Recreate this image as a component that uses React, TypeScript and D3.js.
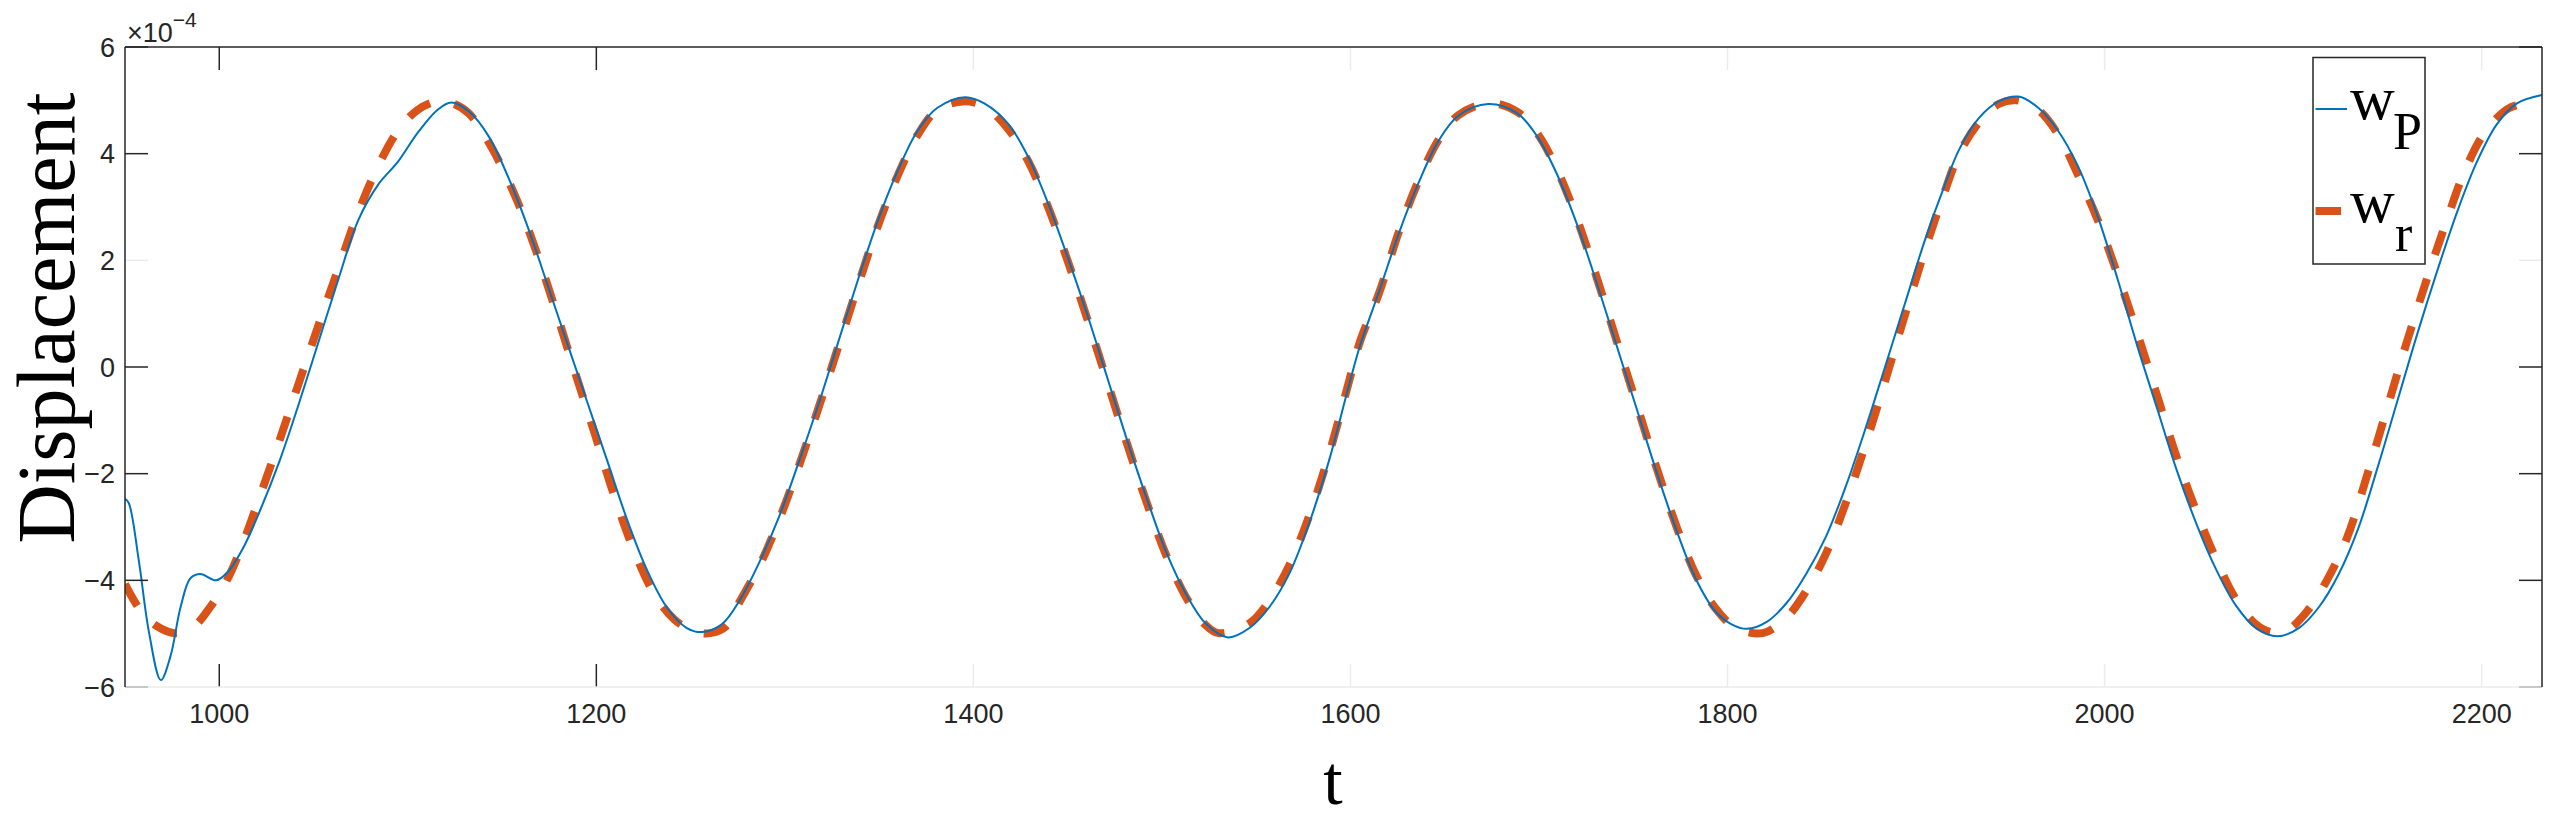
import React from "react";
import * as d3 from "d3";

// values are in units of 1e-4 (the axis carries the x10^-4 exponent)
const tP = [950, 952, 957.4, 962.7, 969, 974, 979.5, 984.7, 990, 998.3, 1004.6, 1013, 1021.4, 1031.9, 1042.3, 1052.8, 1063.3, 1073.8, 1084.3, 1094.8, 1105.2, 1115.7, 1123, 1132.5, 1143, 1153.5, 1163.9, 1174.4, 1184.9, 1195.4, 1205.9, 1216.3, 1226.8, 1237.3, 1247.8, 1256.2, 1266.7, 1276.1, 1286.6, 1297.1, 1307.5, 1318, 1328.5, 1339, 1349.5, 1360, 1370.4, 1380.9, 1395.6, 1406, 1418.7, 1429.2, 1439.6, 1450.1, 1460.6, 1471.1, 1481.6, 1492, 1502.5, 1513, 1523.5, 1535, 1546.6, 1557, 1567.5, 1578, 1588.5, 1599, 1604.9, 1615.3, 1625.8, 1636.2, 1646.7, 1657.2, 1673, 1688.7, 1699.1, 1709.6, 1720.1, 1730.6, 1741.1, 1751.6, 1762, 1772.5, 1783, 1793.5, 1801.9, 1810.3, 1820.8, 1831.2, 1841.7, 1852.2, 1862.7, 1873.2, 1883.7, 1894.1, 1904.6, 1915.1, 1922.9, 1933.4, 1943.8, 1954.3, 1964.8, 1975.3, 1985.8, 1996.3, 2006.8, 2017.2, 2027.7, 2038.2, 2048.7, 2059.2, 2069.6, 2080.1, 2091.7, 2103.2, 2113.7, 2124.2, 2134.6, 2145.1, 2155.6, 2166.1, 2176.6, 2187, 2197.5, 2208, 2218.5, 2232];
const wP = [-2.47, -2.55, -3.65, -4.97, -5.87, -5.44, -4.5, -3.96, -3.88, -4.0, -3.84, -3.37, -2.71, -1.77, -0.68, 0.49, 1.66, 2.76, 3.42, 3.85, 4.39, 4.82, 4.96, 4.79, 4.32, 3.54, 2.6, 1.51, 0.41, -0.68, -1.77, -2.86, -3.8, -4.5, -4.89, -4.97, -4.82, -4.37, -3.65, -2.79, -1.77, -0.68, 0.49, 1.66, 2.76, 3.69, 4.43, 4.86, 5.06, 4.94, 4.55, 3.93, 3.07, 2.05, 0.96, -0.21, -1.38, -2.47, -3.49, -4.27, -4.82, -5.07, -4.89, -4.5, -3.88, -2.94, -1.77, -0.37, 0.38, 1.43, 2.52, 3.46, 4.24, 4.71, 4.93, 4.75, 4.32, 3.61, 2.68, 1.58, 0.41, -0.76, -1.93, -3.02, -3.96, -4.58, -4.82, -4.91, -4.78, -4.43, -3.88, -3.18, -2.24, -1.15, 0.02, 1.19, 2.37, 3.4, 4.08, 4.67, 4.98, 5.07, 4.86, 4.43, 3.77, 2.83, 1.66, 0.41, -0.76, -1.93, -2.94, -3.8, -4.47, -4.89, -5.05, -4.89, -4.5, -3.88, -3.02, -1.85, -0.6, 0.65, 1.82, 2.91, 3.85, 4.55, 4.94, 5.1];

const tR = [950, 958.5, 966.9, 976.3, 985.7, 995.2, 1004.6, 1013, 1021.4, 1031.9, 1042.3, 1052.8, 1063.3, 1073.8, 1084.3, 1094.8, 1105.2, 1115.7, 1124, 1132.5, 1145, 1157.6, 1168.1, 1178.6, 1189, 1199.6, 1210, 1220.5, 1231, 1241.5, 1252, 1260.4, 1268.8, 1276, 1286.6, 1297, 1307.5, 1318, 1328.5, 1339, 1349.5, 1360, 1370.4, 1380.9, 1394.5, 1406, 1418.7, 1429.2, 1439.6, 1450.1, 1460.6, 1471.1, 1481.6, 1492, 1502.5, 1513, 1523.5, 1530, 1546.6, 1557, 1567.5, 1578, 1588.5, 1599, 1604.8, 1615.3, 1625.8, 1636.2, 1646.7, 1657.2, 1674, 1688.7, 1699.1, 1709.6, 1720.1, 1730.6, 1741.1, 1751.6, 1762, 1772.5, 1783, 1793.5, 1804, 1818.7, 1831.2, 1841.7, 1852.2, 1862.7, 1873.2, 1883.7, 1894.1, 1904.6, 1915.1, 1922.9, 1933.4, 1943.8, 1953.3, 1964.8, 1975.3, 1985.8, 1996.3, 2006.8, 2017.2, 2027.7, 2038.2, 2048.7, 2059.2, 2069.6, 2080.1, 2088.5, 2097, 2107.4, 2117.9, 2128.4, 2138.8, 2149.3, 2159.8, 2170.3, 2180.8, 2191.2, 2201.7, 2214.3, 2224.8, 2230];
const wR = [-4.07, -4.58, -4.86, -4.99, -4.89, -4.5, -3.96, -3.26, -2.44, -1.38, -0.29, 0.8, 1.86, 2.91, 3.77, 4.43, 4.82, 4.98, 4.94, 4.75, 4.08, 3.15, 2.17, 1.04, -0.13, -1.3, -2.47, -3.49, -4.27, -4.74, -4.96, -4.99, -4.86, -4.4, -3.72, -2.86, -1.85, -0.75, 0.4, 1.55, 2.66, 3.6, 4.35, 4.82, 4.98, 4.88, 4.45, 3.85, 3.0, 1.98, 0.88, -0.29, -1.45, -2.55, -3.55, -4.33, -4.85, -4.99, -4.8, -4.38, -3.72, -2.8, -1.65, -0.3, 0.45, 1.4, 2.55, 3.5, 4.26, 4.72, 4.95, 4.78, 4.38, 3.7, 2.78, 1.68, 0.5, -0.68, -1.85, -2.95, -3.88, -4.52, -4.88, -4.99, -4.7, -4.2, -3.5, -2.55, -1.45, -0.25, 0.98, 2.18, 3.28, 4.0, 4.59, 4.93, 5.0, 4.82, 4.36, 3.61, 2.76, 1.74, 0.65, -0.52, -1.69, -2.71, -3.61, -4.35, -4.82, -4.97, -4.93, -4.58, -4.0, -3.22, -2.08, -0.84, 0.41, 1.58, 2.68, 3.69, 4.4, 4.85, 4.95];

const xTicks = [1000, 1200, 1400, 1600, 1800, 2000, 2200];
const yTicks = [-6, -4, -2, 0, 2, 4, 6];
// ticks that show up washed out in the reference
const faintX = [1400, 1600, 1800, 2000, 2200];
const faintY = [2];

const W = 2559;
const H = 821;
const left = 125, right = 2542, top = 47, bottom = 687;

export default function App() {
  const x = d3.scaleLinear().domain([950, 2232]).range([left, right]);
  const y = d3.scaleLinear().domain([-6, 6]).range([bottom, top]);

  const pathOf = (ts: number[], ws: number[]) =>
    d3
      .line<number>()
      .x((t) => x(t))
      .y((_, i) => y(ws[i]))
      .curve(d3.curveCatmullRom.alpha(0.5))(ts) || "";

  const axisColor = "#262626";
  const faint = "#ebebeb";
  const tickLen = 23;
  const sans = "'Liberation Sans', Arial, sans-serif";
  const serif = "'Liberation Serif', 'Times New Roman', serif";

  return (
    <div style={{ position: "fixed", left: 0, top: 0, background: "#fff" }}>
      <svg width={W} height={H} style={{ display: "block" }}>
        <defs>
          <clipPath id="plot">
            <rect x={left} y={top} width={right - left} height={bottom - top} />
          </clipPath>
        </defs>
        <rect width={W} height={H} fill="#fff" />

        {/* curves */}
        <g clipPath="url(#plot)">
          <path d={pathOf(tR, wR)} fill="none" stroke="#D95319" strokeWidth={8} strokeDasharray="25 25" />
          <path d={pathOf(tP, wP)} fill="none" stroke="#0072BD" strokeWidth={2} />
        </g>

        {/* ticks */}
        {xTicks.map((t) => {
          const c = faintX.includes(t) ? faint : axisColor;
          return (
            <g key={"xt" + t}>
              <line x1={x(t)} x2={x(t)} y1={bottom} y2={bottom - tickLen} stroke={c} strokeWidth={1.5} />
              <line x1={x(t)} x2={x(t)} y1={top} y2={top + tickLen} stroke={c} strokeWidth={1.5} />
              <text x={x(t)} y={723} textAnchor="middle" fontFamily={sans} fontSize={27} fill="#262626">
                {t}
              </text>
            </g>
          );
        })}
        {yTicks.map((v) => {
          const c = faintY.includes(v) ? faint : axisColor;
          return (
            <g key={"yt" + v}>
              <line x1={left} x2={left + tickLen} y1={y(v)} y2={y(v)} stroke={c} strokeWidth={1.5} />
              <line x1={right} x2={right - tickLen} y1={y(v)} y2={y(v)} stroke={c} strokeWidth={1.5} />
              <text x={115} y={y(v)} dy="0.36em" textAnchor="end" fontFamily={sans} fontSize={27} fill="#262626">
                {v < 0 ? "\u2212" + Math.abs(v) : v}
              </text>
            </g>
          );
        })}

        {/* box */}
        <line x1={left} x2={right} y1={bottom} y2={bottom} stroke={faint} strokeWidth={1.5} />
        <line x1={left} x2={right} y1={top} y2={top} stroke={axisColor} strokeWidth={1.5} />
        <line x1={left} x2={left} y1={top} y2={bottom} stroke={axisColor} strokeWidth={1.5} />
        <line x1={right} x2={right} y1={top} y2={bottom} stroke={axisColor} strokeWidth={1.5} />

        {/* exponent */}
        <text x={127} y={42} fontFamily={sans} fontSize={27} fill="#262626">
          {"\u00d710"}
          <tspan dy={-15} fontSize={21}>{"\u22124"}</tspan>
        </text>

        {/* axis labels */}
        <text
          transform="translate(74,318) rotate(-90)"
          textAnchor="middle"
          fontFamily={serif}
          fontSize={82}
          fill="#000"
        >
          Displacement
        </text>
        <text x={1333} y={804} textAnchor="middle" fontFamily={serif} fontSize={70} fill="#000">
          t
        </text>

        {/* legend */}
        <rect x={2313} y={57.5} width={112} height={206.5} fill="#fff" stroke={axisColor} strokeWidth={1.5} />
        <line x1={2315.5} x2={2347} y1={109} y2={109} stroke="#0072BD" strokeWidth={2} />
        <text x={2350} y={119} fontFamily={serif} fontSize={62} fill="#000">w</text>
        <text x={2393} y={149} fontFamily={serif} fontSize={52} fill="#000">P</text>
        <line x1={2315.5} x2={2341} y1={211} y2={211} stroke="#D95319" strokeWidth={8} />
        <text x={2350} y={222} fontFamily={serif} fontSize={62} fill="#000">w</text>
        <text x={2395} y={251} fontFamily={serif} fontSize={52} fill="#000">r</text>
      </svg>
    </div>
  );
}
